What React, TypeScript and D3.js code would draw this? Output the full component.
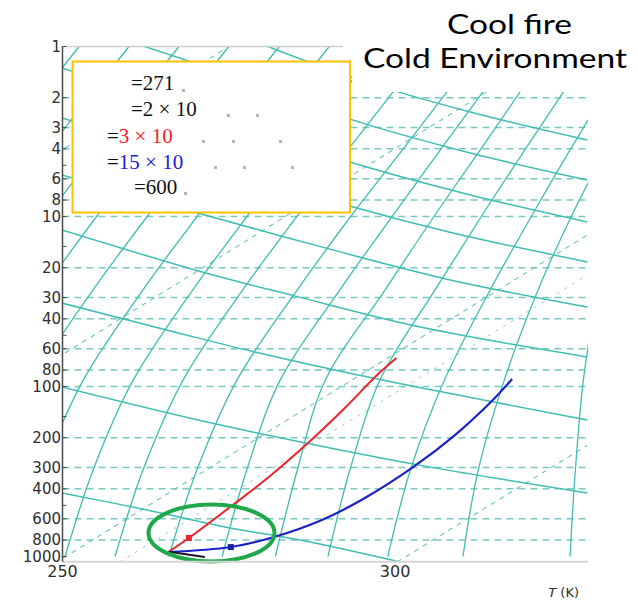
import * as d3 from 'd3';

const W = 638;
const H = 603;

// log axis (vertical) and temperature axis
const Y_TICKS = [1, 2, 3, 4, 6, 8, 10, 20, 30, 40, 60, 80, 100, 200, 300, 400, 600, 800, 1000];
const Y_GRID = [2, 3, 4, 6, 8, 10, 20, 30, 40, 60, 80, 100, 200, 300, 400, 600, 800];
const Y_MINOR = [5, 15, 50, 150, 500];
const X_TICKS = [250, 300];
const P_BOTTOM = 1075;

// parcel curves (T in K, p)
const RED_T = [265.9, 269.0, 275.6, 281.2, 286.9, 292.6, 297.3, 300.2];
const RED_P = [941, 778, 498, 336, 215, 132, 85.6, 68];
const BLUE_T = [265.9, 275.3, 281.8, 289.0, 295.2, 302.7, 309.0, 314.7, 317.6];
const BLUE_P = [941, 879, 768, 610, 459, 298, 193, 120, 90.3];
const RED_DOT: [number, number] = [269.0, 778];
const BLUE_DOT: [number, number] = [275.3, 880];
const BLACK_T = [266.2, 271.4];
const BLACK_P = [941, 1007];
const RING_CENTER: [number, number] = [272.4, 727];

// background diagram: rising solid lines, T at these p levels
const A_LEVELS = [1000, 310, 92, 27, 9.8, 4.06, 1.85, 1];
const A_T = [
  [204, 209, 214.5, 224, 232.7, 240.3, 247.1, 252.5],
  [212, 217, 222.5, 232.0, 240.3, 247.8, 254.6, 260.0],
  [220, 225, 230.5, 239.5, 247.8, 255.3, 262.1, 267.5],
  [227.8, 232.0, 238.0, 247.1, 255.3, 262.9, 269.6, 275.0],
  [235.3, 239.5, 245.6, 254.6, 262.9, 270.4, 277.1, 282.6],
  [242.9, 247.1, 253.1, 262.1, 270.4, 277.9, 284.7, 290.1],
  [250.4, 254.6, 260.6, 269.6, 277.9, 285.4, 292.2, 297.6],
  [257.9, 262.1, 268.1, 277.1, 285.4, 292.9, 299.7, 305.1],
  [266.0, 270.2, 276.2, 285.3, 293.5, 301.1, 307.8, 313.2],
  [274.0, 277.7, 282.7, 291.7, 299.7, 306.8, 313.2, 318.3],
  [282.0, 285.3, 289.5, 298.5, 306.0, 312.8, 318.8, 323.6],
  [289.9, 293.2, 297.7, 306.0, 313.1, 319.5, 325.3, 329.6],
  [298.9, 302.3, 307.4, 314.3, 320.6, 326.3, 331.6],
  [310.2, 312.5, 316.4, 321.5, 326.6, 331.6],
  [326.3, 327.1, 328.3, 330.4],
];

// falling solid lines: [T, p] pairs
const B_LINES: [number, number][][] = [
  [[249.9, 423], [262.7, 532], [275.2, 679], [285.7, 800], [300.8, 1077]],
  [[249.9, 100.7], [270.4, 157.5], [289.5, 227], [305.3, 298], [328.9, 423]],
  [[249.9, 32.3], [267.4, 48.4], [278.9, 62.7], [293.7, 84.4], [328.9, 157.5]],
  [[249.9, 12.0], [271.0, 21.2], [285.0, 29.4], [303.8, 44.7], [328.9, 67.0]],
  [[249.9, 5.7], [271.4, 9.8], [289.5, 15.3], [308.3, 23.6], [328.9, 34.1]],
  [[249.9, 2.634], [270.7, 4.65], [293.7, 8.79], [308.7, 12.5], [328.9, 18.5]],
  [[249.9, 1.338], [270.7, 2.43], [293.7, 4.85], [311.3, 7.47], [328.9, 10.77]],
  [[249.9, 0.698], [270.7, 1.285], [293.7, 2.71], [311.3, 4.23], [328.9, 6.1]],
  [[270.7, 0.698], [293.7, 1.53], [311.3, 2.43], [328.9, 3.55]],
];

// straight dashed lines
const C_LINES: [number, number][][] = [
  [[250.1, 1021], [328.9, 12.85]],
  [[250.4, 63.5], [328.9, 0.793]],
  [[300.3, 1077], [328.9, 222]],
  [[250.4, 3.95], [285.7, 0.55]],
];
const D_LINES: [number, number][][] = [
  [[258.6, 1077], [328.9, 22.1]],
];

const GRID = '#3fbdb3';

export default function App() {
  const x = d3.scaleLinear().domain([250, 329]).range([62.5, 588]);
  const y = d3.scaleLog().domain([1, 1000]).range([46.5, 556.5]);
  const [xL, xR] = x.range();
  const yT = y(1);
  const yB = y(P_BOTTOM);

  const smooth = d3
    .line<[number, number]>()
    .x((d) => x(d[0]))
    .y((d) => y(d[1]))
    .curve(d3.curveCatmullRom.alpha(0.5));
  const straight = d3
    .line<[number, number]>()
    .x((d) => x(d[0]))
    .y((d) => y(d[1]));

  const zip = (ts: number[], ps: number[]) => ts.map((t, i) => [t, ps[i]] as [number, number]);
  const redPts = zip(RED_T, RED_P);
  const bluePts = zip(BLUE_T, BLUE_P);
  const blackPts = zip(BLACK_T, BLACK_P);

  const labelFont = '"DejaVu Sans", sans-serif';
  const serif = '"Liberation Serif", "DejaVu Serif", serif';

  return (
    <svg
      width={W}
      height={H}
      viewBox={`0 0 ${W} ${H}`}
      style={{ position: 'fixed', left: 0, top: 0, background: '#fff' }}
    >
      <defs>
        <clipPath id="plot">
          <rect x={xL} y={yT} width={xR - xL} height={yB - yT} />
        </clipPath>
      </defs>
      <rect width={W} height={H} fill="#fff" />

      <g clipPath="url(#plot)">
        {/* horizontal dashed lines */}
        {Y_GRID.map((v) => (
          <line
            key={v}
            x1={xL}
            x2={xR}
            y1={y(v)}
            y2={y(v)}
            stroke="#63c1b9"
            strokeWidth={1.5}
            strokeDasharray="7 5"
            opacity={0.85}
          />
        ))}
        {C_LINES.map((l, i) => (
          <path key={'c' + i} d={straight(l) || ''} fill="none" stroke="#6cc4bc" strokeWidth={1.1} strokeDasharray="5 5" />
        ))}
        {D_LINES.map((l, i) => (
          <path key={'d' + i} d={straight(l) || ''} fill="none" stroke="#8fd0ca" strokeWidth={1} strokeDasharray="3 6" />
        ))}
        {A_T.map((row, i) => (
          <path
            key={'a' + i}
            d={smooth(zip(row, A_LEVELS.slice(0, row.length))) || ''}
            fill="none"
            stroke={GRID}
            strokeWidth={1.3}
          />
        ))}
        {B_LINES.map((l, i) => (
          <path key={'b' + i} d={smooth(l) || ''} fill="none" stroke={GRID} strokeWidth={1.5} />
        ))}

        {/* parcel curves */}
        <path d={smooth(redPts) || ''} fill="none" stroke="#e8262b" strokeWidth={2} />
        <path d={smooth(bluePts) || ''} fill="none" stroke="#1c22c4" strokeWidth={2.2} />
        <path d={straight(blackPts) || ''} fill="none" stroke="#1a1a2a" strokeWidth={2} />
        <rect x={x(RED_DOT[0]) - 3} y={y(RED_DOT[1]) - 3} width={6} height={6} fill="#e8262b" />
        <rect x={x(BLUE_DOT[0]) - 3} y={y(BLUE_DOT[1]) - 3} width={6} height={6} fill="#1c22a0" />
      </g>

      <ellipse
        cx={x(RING_CENTER[0])}
        cy={y(RING_CENTER[1])}
        rx={63}
        ry={28.5}
        fill="none"
        stroke="#1ea84a"
        strokeWidth={4}
      />

      {/* axes */}
      <line x1={xL} x2={343} y1={yT} y2={yT} stroke="#cfcfcf" strokeWidth={1.5} />
      <line x1={xL} x2={xR} y1={yB} y2={yB} stroke="#d6d6d6" strokeWidth={2} />
      <line x1={xL} x2={xL} y1={yT} y2={yB} stroke="#4a4a4a" strokeWidth={1.5} />
      {Y_TICKS.concat(Y_MINOR).map((v) => (
        <line key={'t' + v} x1={xL} x2={xL + 4} y1={y(v)} y2={y(v)} stroke="#4a4a4a" strokeWidth={1} />
      ))}
      {Y_TICKS.map((v) => (
        <text
          key={'yl' + v}
          x={61}
          y={y(v)}
          dy="0.36em"
          textAnchor="end"
          fontFamily={labelFont}
          fontSize={15}
          fill="#2e2e2e"
        >
          {v}
        </text>
      ))}
      {X_TICKS.map((v) => (
        <text
          key={'xl' + v}
          x={x(v)}
          y={577}
          textAnchor="middle"
          fontFamily={labelFont}
          fontSize={16}
          fill="#2e2e2e"
        >
          {v}
        </text>
      ))}
      <text x={579} y={597} textAnchor="end" fontFamily={labelFont} fontSize={13} fill="#2e2e2e">
        <tspan fontStyle="italic">T</tspan> (K)
      </text>

      {/* legend */}
      <rect x={72.5} y={61.5} width={277.5} height={151} fill="#fff" stroke="#ffc000" strokeWidth={2} />
      <g fontFamily={serif} fontSize={21}>
        <text x={131} y={90} fill="#111">=271</text>
        <text x={131} y={116} fill="#111">=2 × 10</text>
        <text x={107} y={142.5} fill="#111">
          =<tspan fill="#ff1a1a">3 × 10</tspan>
        </text>
        <text x={107} y={168.5} fill="#111">
          =<tspan fill="#1a1ad8">15 × 10</tspan>
        </text>
        <text x={134} y={193.5} fill="#111">=600</text>
      </g>
      <g fill="#b5b5b5">
        {[
          [182, 89],
          [227, 114],
          [256, 114],
          [202, 140],
          [232, 140],
          [279, 140],
          [214, 166],
          [243, 166],
          [291, 166],
          [184, 192],
        ].map(([cx, cy], i) => (
          <rect key={'g' + i} x={cx} y={cy} width={3} height={3} />
        ))}
      </g>

      {/* title */}
      <rect x={352} y={0} width={W - 352} height={92} fill="#fff" />
      <g fontFamily="Lato, 'Open Sans', sans-serif" fontSize={27} fill="#000" textAnchor="middle">
        <text x={509.5} y={34} textLength={125} lengthAdjust="spacingAndGlyphs">Cool fire</text>
        <text x={495} y={68} textLength={264} lengthAdjust="spacingAndGlyphs">Cold Environment</text>
      </g>
    </svg>
  );
}
